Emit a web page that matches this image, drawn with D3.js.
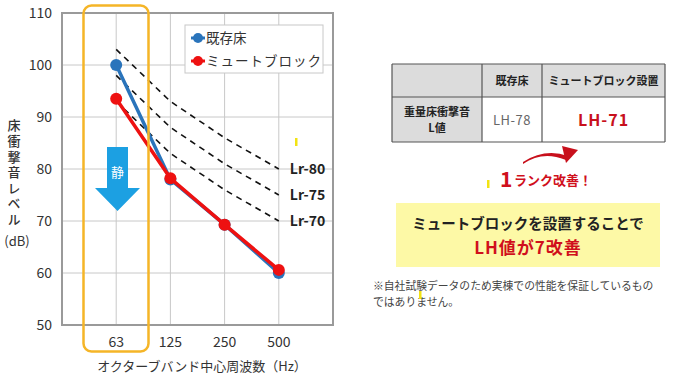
<!DOCTYPE html>
<html>
<head>
<meta charset="utf-8">
<script src="https://cdn.jsdelivr.net/npm/d3@7"></script>
<style>
  body { margin: 0; background: #fff; }
  svg text { font-family: "Noto Sans CJK JP", "Noto Sans", sans-serif; }
</style>
</head>
<body>
<svg id="chart" width="680" height="376"></svg>
<script>
// chart data
const bands = ["63", "125", "250", "500"];
const existingFloor = [100, 78, 69.3, 60];
const muteBlock = [93.5, 78.2, 69.3, 60.6];
const lr80 = [103, 93, 86, 80];
const lr75 = [98, 88, 81, 75];
const lr70 = [93, 83, 76, 70];
const lrNames = ["Lr-80", "Lr-75", "Lr-70"];
const yTicks = [50, 60, 70, 80, 90, 100, 110];
const seriesNames = ["既存床", "ミュートブロック"];
const tableHead = ["", "既存床", "ミュートブロック設置"];
const tableRow = ["重量床衝撃音\nL値", "LH-78", "LH-71"];

const svg = d3.select("#chart");
const plot = { left: 62, right: 333, top: 13, bottom: 325 };

// x: index 0..5, bands sit on 1..4
const x = d3.scaleLinear().domain([0, 5]).range([plot.left, plot.right]);
const y = d3.scaleLinear().domain([50, 110]).range([plot.bottom, plot.top]);

const g = svg.append("g");

// grid
g.selectAll(".hgrid").data(yTicks).join("line")
  .attr("x1", plot.left).attr("x2", plot.right)
  .attr("y1", d => y(d)).attr("y2", d => y(d))
  .attr("stroke", "#c8c8c8").attr("stroke-width", 1);
g.selectAll(".vgrid").data(d3.range(0, 6)).join("line")
  .attr("x1", d => x(d)).attr("x2", d => x(d))
  .attr("y1", plot.top).attr("y2", plot.bottom)
  .attr("stroke", "#c8c8c8").attr("stroke-width", 1);
g.append("rect")
  .attr("x", plot.left).attr("y", plot.top)
  .attr("width", plot.right - plot.left).attr("height", plot.bottom - plot.top)
  .attr("fill", "none").attr("stroke", "#9a9a9a").attr("stroke-width", 2);

// y axis labels
const yAxis = g.append("g")
  .attr("transform", `translate(${plot.left},0)`)
  .call(d3.axisLeft(y).tickValues(yTicks).tickSize(0).tickPadding(10));
yAxis.select(".domain").remove();
yAxis.selectAll("text")
  .attr("font-family", "DejaVu Sans, Verdana, sans-serif")
  .attr("font-size", 14).attr("fill", "#333");

// x labels
g.selectAll(".xlab").data(bands).join("text")
  .attr("x", (d, i) => x(i + 1)).attr("y", 347)
  .attr("text-anchor", "middle")
  .attr("font-family", "DejaVu Sans, Verdana, sans-serif")
  .attr("font-size", 14).attr("fill", "#333")
  .text(d => d);

g.append("text")
  .attr("x", 202).attr("y", 371)
  .attr("text-anchor", "middle")
  .attr("font-size", 13).attr("fill", "#333")
  .text("オクターブバンド中心周波数（Hz）");

// y title, written vertically
g.append("text")
  .attr("x", 14).attr("y", 119)
  .attr("writing-mode", "vertical-rl")
  .attr("font-size", 13).attr("fill", "#333").attr("font-weight", 500)
  .attr("letter-spacing", 2.6)
  .text("床衝撃音レベル");
g.append("text")
  .attr("x", 17).attr("y", 246)
  .attr("text-anchor", "middle")
  .attr("font-size", 13).attr("fill", "#333")
  .text("(dB)");

// Lr reference curves
const line = d3.line().x((d, i) => x(i + 1)).y(d => y(d));
[lr80, lr75, lr70].forEach((vals, k) => {
  g.append("path").datum(vals)
    .attr("d", line)
    .attr("fill", "none").attr("stroke", "#111")
    .attr("stroke-width", 1.6).attr("stroke-dasharray", "6,5");
  g.append("text")
    .attr("x", x(4) + 11).attr("y", y(vals[3]) + 5)
    .attr("font-family", "DejaVu Sans, Verdana, sans-serif")
    .attr("font-size", 14).attr("font-weight", "bold").attr("fill", "#222")
    .text(lrNames[k]);
});

// blue arrow with 静
const arrow = d3.path();
arrow.moveTo(107, 147); arrow.lineTo(128, 147); arrow.lineTo(128, 188);
arrow.lineTo(140, 188); arrow.lineTo(117.5, 211); arrow.lineTo(95, 188);
arrow.lineTo(107, 188); arrow.closePath();
g.append("path").attr("d", arrow.toString()).attr("fill", "#1ca0e2");
g.append("text")
  .attr("x", 117.5).attr("y", 177).attr("text-anchor", "middle")
  .attr("font-size", 13).attr("fill", "#fff")
  .text("静");

// series
const colors = ["#2a74bb", "#ee1111"];
[existingFloor, muteBlock].forEach((vals, k) => {
  g.append("path").datum(vals)
    .attr("d", line)
    .attr("fill", "none").attr("stroke", colors[k]).attr("stroke-width", 3.5);
  g.selectAll(".pt" + k).data(vals).join("circle")
    .attr("cx", (d, i) => x(i + 1)).attr("cy", d => y(d))
    .attr("r", 6).attr("fill", colors[k]);
});

// highlight box around 63
g.append("rect")
  .attr("x", 83.5).attr("y", 5.5).attr("width", 65).attr("height", 346)
  .attr("rx", 8).attr("fill", "none")
  .attr("stroke", "#f5b527").attr("stroke-width", 2.5);

// legend
const lg = g.append("g");
lg.append("rect")
  .attr("x", 185).attr("y", 25).attr("width", 138).attr("height", 48)
  .attr("fill", "#fff").attr("stroke", "#c8c8c8");
seriesNames.forEach((name, k) => {
  const ly = 38 + k * 23;
  lg.append("line").attr("x1", 191).attr("x2", 205).attr("y1", ly).attr("y2", ly)
    .attr("stroke", colors[k]).attr("stroke-width", 3);
  lg.append("circle").attr("cx", 198).attr("cy", ly).attr("r", 5).attr("fill", colors[k]);
  lg.append("text").attr("x", 206).attr("y", ly + 5)
    .attr("font-size", 13.5).attr("fill", "#333")
    .attr("letter-spacing", k === 1 ? 1 : 0)
    .text(name);
});

// table on the right
const colX = [392, 482, 542, 665];
const rowY = [64, 97, 142];
const t = svg.append("g");
t.append("rect").attr("x", colX[0]).attr("y", rowY[0])
  .attr("width", colX[3] - colX[0]).attr("height", rowY[1] - rowY[0]).attr("fill", "#dcdcdc");
t.append("rect").attr("x", colX[0]).attr("y", rowY[1])
  .attr("width", colX[1] - colX[0]).attr("height", rowY[2] - rowY[1]).attr("fill", "#dcdcdc");
rowY.forEach(yy => t.append("line").attr("x1", colX[0]).attr("x2", colX[3])
  .attr("y1", yy).attr("y2", yy).attr("stroke", "#555").attr("stroke-width", 1.2));
colX.forEach(xx => t.append("line").attr("x1", xx).attr("x2", xx)
  .attr("y1", rowY[0]).attr("y2", rowY[2]).attr("stroke", "#555").attr("stroke-width", 1.2));
tableHead.forEach((txt, i) => {
  if (!txt) return;
  t.append("text").attr("x", (colX[i] + colX[i + 1]) / 2).attr("y", 85)
    .attr("text-anchor", "middle").attr("font-size", 11).attr("font-weight", "bold")
    .attr("fill", "#222").text(txt);
});
tableRow[0].split("\n").forEach((ln, j) => {
  t.append("text").attr("x", (colX[0] + colX[1]) / 2).attr("y", 115.5 + j * 16.5)
    .attr("text-anchor", "middle").attr("font-size", 11).attr("font-weight", "bold")
    .attr("fill", "#222").text(ln);
});
t.append("text").attr("x", (colX[1] + colX[2]) / 2).attr("y", 125)
  .attr("text-anchor", "middle").attr("font-size", 13).attr("fill", "#666")
  .attr("letter-spacing", 0.5).text(tableRow[1]);
t.append("text").attr("x", (colX[2] + colX[3]) / 2).attr("y", 126)
  .attr("text-anchor", "middle").attr("font-size", 16).attr("font-weight", "bold")
  .attr("fill", "#c8101c").attr("letter-spacing", 1).text(tableRow[2]);

// curved arrow
t.append("path")
  .attr("d", "M523,162 Q545,148 568,156 L566,160 C548,153 536,156 523,164 Z")
  .attr("fill", "#c8101c");
t.append("path")
  .attr("d", "M562,146 L578,150 L566,163 Z")
  .attr("fill", "#c8101c");
t.append("text").attr("x", 500).attr("y", 187)
  .attr("font-size", 21).attr("font-weight", "bold").attr("fill", "#d0101c")
  .attr("font-family", "DejaVu Sans, sans-serif").text("1");
t.append("text").attr("x", 514).attr("y", 185)
  .attr("font-size", 13).attr("font-weight", "bold").attr("fill", "#d0101c")
  .text("ランク改善！");

// yellow message box
t.append("rect").attr("x", 396).attr("y", 203).attr("width", 264).attr("height", 64)
  .attr("fill", "#fdf9a6");
t.append("text").attr("x", 528).attr("y", 229).attr("text-anchor", "middle")
  .attr("font-size", 14.5).attr("font-weight", "bold").attr("fill", "#222")
  .text("ミュートブロックを設置することで");
t.append("text").attr("x", 528).attr("y", 254).attr("text-anchor", "middle")
  .attr("font-size", 17).attr("font-weight", "bold").attr("fill", "#d0101c")
  .attr("letter-spacing", 1).text("LH値が7改善");

// note
const note = ["※自社試験データのため実棟での性能を保証しているもの", "ではありません。"];
note.forEach((ln, j) => {
  t.append("text").attr("x", 373).attr("y", 290 + j * 16)
    .attr("font-size", 10.8).attr("fill", "#444").text(ln);
});

// small yellow specks seen in the image
[[295, 138], [487, 180], [419, 291]].forEach(p => {
  svg.append("rect").attr("x", p[0]).attr("y", p[1]).attr("width", 2.5).attr("height", 8)
    .attr("fill", "#f2e313");
});
</script>
</body>
</html>
